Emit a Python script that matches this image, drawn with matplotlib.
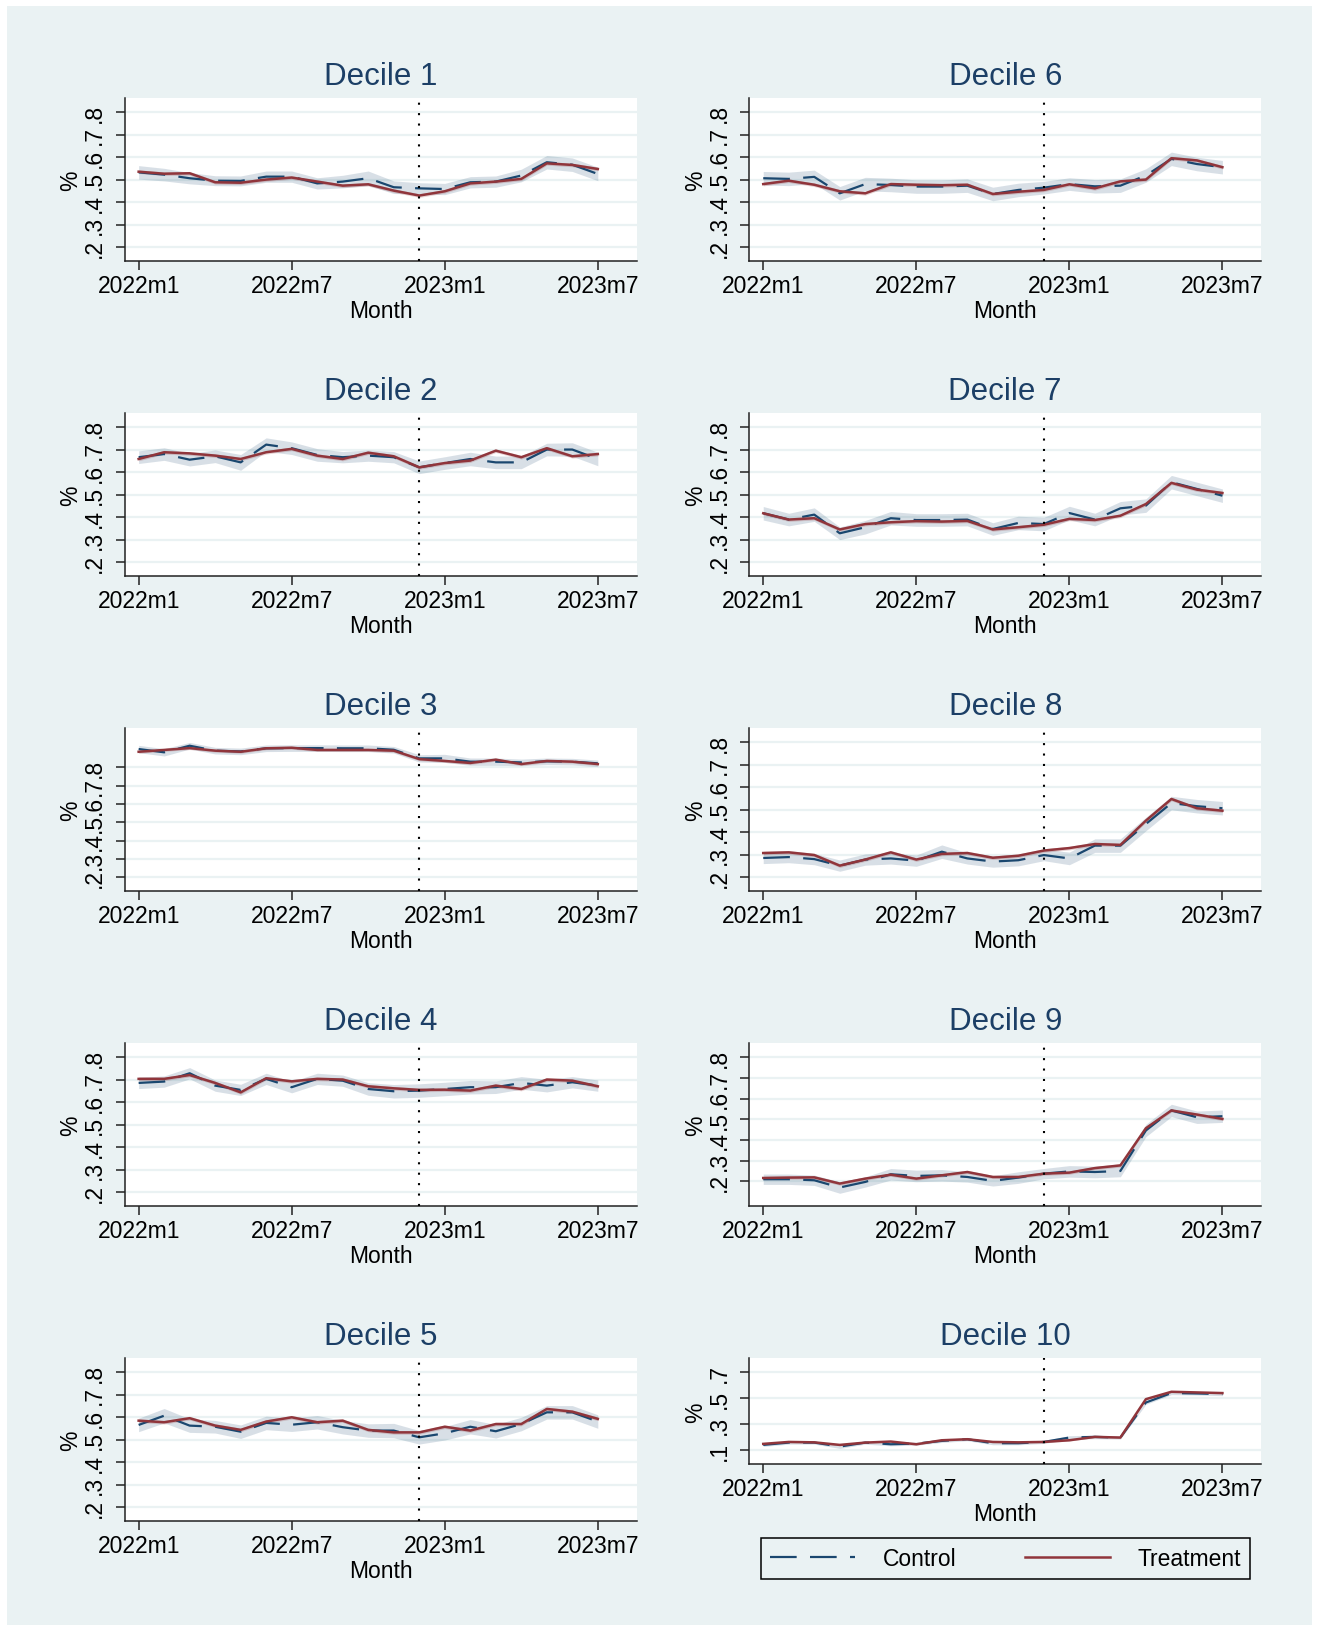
import numpy as np
import matplotlib.pyplot as plt
from matplotlib.patches import Rectangle

plt.rcParams['font.family'] = ['Liberation Sans', 'DejaVu Sans']

BG = '#eaf2f3'
NAVY = '#1a476f'
TITLE = '#1c3f66'
RED = '#90353b'

months = ['2022m1', '2022m2', '2022m3', '2022m4', '2022m5', '2022m6', '2022m7',
          '2022m8', '2022m9', '2022m10', '2022m11', '2022m12', '2023m1', '2023m2',
          '2023m3', '2023m4', '2023m5', '2023m6', '2023m7']
xtick_months = ['2022m1', '2022m7', '2023m1', '2023m7']
event_month = '2022m12'

# mean share (%), control and treatment groups, by income decile
control_1 = [0.533, 0.523, 0.507, 0.496, 0.495, 0.514, 0.514, 0.484, 0.492, 0.507, 0.467, 0.462, 0.459, 0.489, 0.492, 0.519, 0.578, 0.567, 0.526]
treat_1 = [0.536, 0.527, 0.529, 0.489, 0.487, 0.501, 0.510, 0.492, 0.474, 0.480, 0.452, 0.430, 0.449, 0.484, 0.492, 0.504, 0.573, 0.566, 0.548]
control_2 = [0.667, 0.681, 0.656, 0.671, 0.644, 0.723, 0.707, 0.677, 0.667, 0.674, 0.667, 0.622, 0.641, 0.659, 0.644, 0.644, 0.701, 0.701, 0.659]
treat_2 = [0.659, 0.689, 0.684, 0.674, 0.659, 0.689, 0.704, 0.674, 0.659, 0.687, 0.671, 0.622, 0.641, 0.652, 0.696, 0.667, 0.707, 0.671, 0.681]
control_3 = [0.900, 0.882, 0.918, 0.891, 0.887, 0.904, 0.905, 0.905, 0.904, 0.904, 0.896, 0.849, 0.849, 0.831, 0.831, 0.827, 0.833, 0.831, 0.822]
treat_3 = [0.885, 0.895, 0.905, 0.891, 0.885, 0.904, 0.907, 0.895, 0.895, 0.895, 0.891, 0.845, 0.835, 0.824, 0.842, 0.818, 0.835, 0.831, 0.818]
control_4 = [0.686, 0.692, 0.729, 0.674, 0.655, 0.704, 0.667, 0.704, 0.696, 0.659, 0.649, 0.652, 0.659, 0.667, 0.667, 0.686, 0.674, 0.689, 0.674]
treat_4 = [0.704, 0.704, 0.721, 0.686, 0.644, 0.707, 0.693, 0.704, 0.701, 0.671, 0.662, 0.655, 0.656, 0.652, 0.674, 0.659, 0.701, 0.696, 0.671]
control_5 = [0.566, 0.607, 0.563, 0.558, 0.536, 0.575, 0.567, 0.578, 0.556, 0.541, 0.541, 0.511, 0.529, 0.558, 0.538, 0.570, 0.622, 0.622, 0.581]
treat_5 = [0.585, 0.578, 0.596, 0.563, 0.544, 0.581, 0.600, 0.578, 0.585, 0.544, 0.533, 0.533, 0.558, 0.541, 0.570, 0.570, 0.637, 0.625, 0.593]
control_6 = [0.507, 0.504, 0.513, 0.440, 0.481, 0.477, 0.470, 0.470, 0.474, 0.437, 0.455, 0.465, 0.481, 0.471, 0.474, 0.519, 0.593, 0.570, 0.556]
treat_6 = [0.481, 0.496, 0.478, 0.449, 0.440, 0.481, 0.478, 0.476, 0.478, 0.437, 0.447, 0.455, 0.480, 0.462, 0.493, 0.501, 0.596, 0.586, 0.556]
control_7 = [0.418, 0.390, 0.412, 0.329, 0.356, 0.396, 0.388, 0.388, 0.390, 0.348, 0.375, 0.370, 0.419, 0.390, 0.440, 0.452, 0.556, 0.526, 0.496]
treat_7 = [0.418, 0.390, 0.396, 0.346, 0.370, 0.378, 0.383, 0.381, 0.384, 0.346, 0.356, 0.367, 0.393, 0.388, 0.407, 0.459, 0.553, 0.523, 0.508]
control_8 = [0.286, 0.290, 0.281, 0.252, 0.279, 0.284, 0.274, 0.314, 0.284, 0.270, 0.276, 0.299, 0.284, 0.341, 0.341, 0.437, 0.530, 0.516, 0.507]
treat_8 = [0.308, 0.311, 0.299, 0.252, 0.279, 0.311, 0.279, 0.304, 0.308, 0.287, 0.296, 0.319, 0.330, 0.348, 0.344, 0.452, 0.548, 0.507, 0.496]
control_9 = [0.210, 0.210, 0.205, 0.170, 0.197, 0.234, 0.226, 0.229, 0.221, 0.202, 0.218, 0.237, 0.248, 0.245, 0.250, 0.446, 0.543, 0.510, 0.515]
treat_9 = [0.216, 0.218, 0.219, 0.189, 0.213, 0.232, 0.213, 0.229, 0.245, 0.221, 0.221, 0.237, 0.242, 0.264, 0.277, 0.457, 0.543, 0.523, 0.502]
control_10 = [0.139, 0.157, 0.157, 0.126, 0.157, 0.144, 0.149, 0.170, 0.183, 0.152, 0.152, 0.162, 0.196, 0.201, 0.196, 0.467, 0.540, 0.537, 0.532]
treat_10 = [0.147, 0.162, 0.159, 0.139, 0.157, 0.165, 0.144, 0.175, 0.183, 0.162, 0.159, 0.162, 0.175, 0.201, 0.196, 0.493, 0.550, 0.545, 0.540]

# 95% CI half-widths for the control mean
ci_1 = [0.030, 0.028, 0.025, 0.022, 0.022, 0.025, 0.025, 0.025, 0.028, 0.032, 0.028, 0.025, 0.025, 0.025, 0.025, 0.028, 0.030, 0.030, 0.030]
ci_2 = [0.028, 0.028, 0.028, 0.028, 0.035, 0.030, 0.028, 0.028, 0.025, 0.025, 0.025, 0.028, 0.028, 0.030, 0.028, 0.028, 0.028, 0.030, 0.030]
ci_3 = [0.020, 0.020, 0.018, 0.018, 0.018, 0.018, 0.018, 0.018, 0.018, 0.018, 0.018, 0.020, 0.022, 0.020, 0.020, 0.018, 0.018, 0.018, 0.018]
ci_4 = [0.025, 0.025, 0.025, 0.025, 0.025, 0.025, 0.025, 0.025, 0.025, 0.028, 0.030, 0.030, 0.030, 0.030, 0.028, 0.028, 0.028, 0.025, 0.025]
ci_5 = [0.030, 0.032, 0.030, 0.028, 0.030, 0.030, 0.030, 0.030, 0.030, 0.030, 0.032, 0.030, 0.030, 0.032, 0.030, 0.030, 0.030, 0.030, 0.030]
ci_6 = [0.030, 0.030, 0.030, 0.030, 0.030, 0.030, 0.030, 0.030, 0.030, 0.030, 0.030, 0.028, 0.028, 0.030, 0.030, 0.030, 0.030, 0.030, 0.030]
ci_7 = [0.030, 0.028, 0.030, 0.028, 0.030, 0.030, 0.028, 0.028, 0.028, 0.028, 0.030, 0.030, 0.030, 0.028, 0.030, 0.030, 0.030, 0.030, 0.030]
ci_8 = [0.025, 0.025, 0.025, 0.025, 0.025, 0.025, 0.025, 0.030, 0.025, 0.025, 0.025, 0.025, 0.028, 0.030, 0.030, 0.030, 0.030, 0.030, 0.030]
ci_9 = [0.025, 0.025, 0.025, 0.028, 0.025, 0.028, 0.028, 0.028, 0.025, 0.025, 0.028, 0.025, 0.028, 0.028, 0.028, 0.030, 0.030, 0.030, 0.030]
ci_10 = [0.012, 0.012, 0.012, 0.014, 0.012, 0.012, 0.012, 0.012, 0.012, 0.012, 0.012, 0.012, 0.014, 0.014, 0.012, 0.014, 0.012, 0.012, 0.012]
# treatment CI is much tighter, roughly constant within a decile
treat_ci = [0.008, 0.008, 0.008, 0.008, 0.008, 0.008, 0.008, 0.008, 0.008, 0.006]

controls = [control_1, control_2, control_3, control_4, control_5,
            control_6, control_7, control_8, control_9, control_10]
treats = [treat_1, treat_2, treat_3, treat_4, treat_5,
          treat_6, treat_7, treat_8, treat_9, treat_10]
cis = [ci_1, ci_2, ci_3, ci_4, ci_5, ci_6, ci_7, ci_8, ci_9, ci_10]

yticks_std = [0.2, 0.3, 0.4, 0.5, 0.6, 0.7, 0.8]
yticks_top = [0.1, 0.3, 0.5, 0.7]
ylims = [(0.138, 0.862), (0.138, 0.862), (0.124, 1.013), (0.138, 0.862), (0.138, 0.862),
         (0.138, 0.862), (0.138, 0.862), (0.138, 0.862), (0.079, 0.868), (-0.011, 0.809)]

W, H = 1319, 1633
fig = plt.figure(figsize=(W / 100, H / 100), dpi=100, facecolor='white')
fig.patches.append(Rectangle((7 / W, 7 / H), 1 - 14 / W, 1 - 14 / H,
                             transform=fig.transFigure, facecolor=BG,
                             edgecolor='none', zorder=-10))

x = np.arange(len(months))
col_left = [124.6, 749.2]
ax_w = 512
row_top = 99.3
row_step = 315

for k in range(10):
    col, row = k // 5, k % 5
    left = col_left[col]
    top = row_top + row_step * row
    height = 106 if k == 9 else 163
    ax = fig.add_axes([left / W, 1 - (top + height) / H, ax_w / W, height / H])
    ax.set_facecolor('white')

    c = np.array(controls[k])
    t = np.array(treats[k])
    ci = np.array(cis[k])
    ax.fill_between(x, c - ci, c + ci, color=NAVY, alpha=0.17, lw=0, zorder=2)
    ax.fill_between(x, t - treat_ci[k], t + treat_ci[k], color=RED, alpha=0.22, lw=0, zorder=2)
    h_c, = ax.plot(x, c, color=NAVY, lw=1.6, dashes=(12, 6), zorder=3)
    h_t, = ax.plot(x, t, color=RED, lw=1.8, zorder=4)
    ax.axvline(months.index(event_month), color='black', lw=1.5, dashes=(1, 4), zorder=5)

    yt = yticks_top if k == 9 else yticks_std
    ax.set_yticks(yt)
    ax.set_yticklabels([('%.1f' % v).lstrip('0') for v in yt], rotation=90, va='center')
    ax.set_ylim(*ylims[k])
    ax.set_xticks([months.index(m) for m in xtick_months])
    ax.set_xticklabels(xtick_months)
    ax.set_xlim(-0.55, 19.52)

    ax.yaxis.grid(True, color=BG, lw=1.6)
    ax.set_axisbelow(True)
    for s in ['top', 'right']:
        ax.spines[s].set_visible(False)
    for s in ['left', 'bottom']:
        ax.spines[s].set_color('#222222')
        ax.spines[s].set_linewidth(1.1)
    ax.tick_params(axis='both', direction='out', length=6.5, width=1.1,
                   color='#222222', labelsize=16.5)
    ax.tick_params(axis='x', pad=3)
    ax.tick_params(axis='y', pad=7)

    cx = (left + ax_w / 2) / W
    fig.text(cx, 1 - (top - 22) / H, 'Decile %d' % (k + 1), ha='center', va='center',
             fontsize=22.5, color=TITLE)
    fig.text(cx, 1 - (top + height + 49) / H, 'Month', ha='center', va='center', fontsize=16.5)
    fig.text((left - 54) / W, 1 - (top + height / 2) / H, '%', rotation=90,
             ha='center', va='center', fontsize=16.5)

leg = fig.legend([h_c, h_t], ['Control', 'Treatment'], ncol=2, loc='center',
                 bbox_to_anchor=(1005.4 / W, 1 - 1559.5 / H), frameon=True,
                 fancybox=False, edgecolor='black', facecolor=BG, framealpha=1,
                 fontsize=16.5, handlelength=3.7, handletextpad=1.2,
                 columnspacing=3.0, borderpad=0.4)
leg.get_frame().set_linewidth(1.1)

fig.savefig('out.png', dpi=100, facecolor='white')
